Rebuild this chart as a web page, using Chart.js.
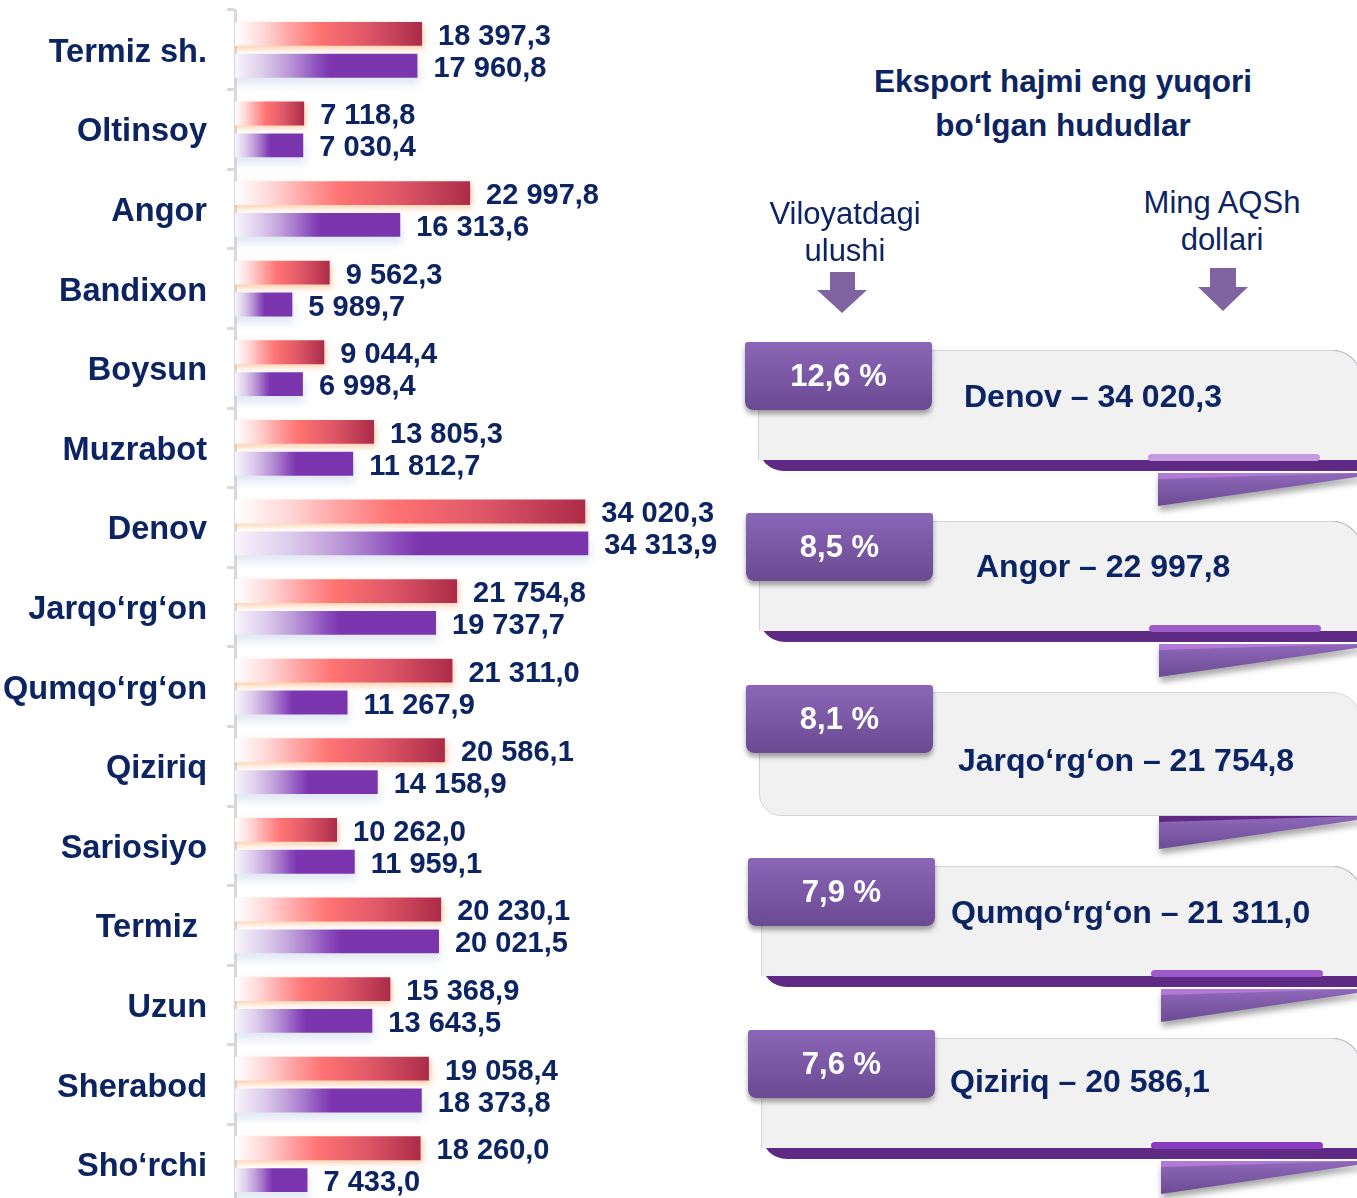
<!DOCTYPE html>
<html>
<head>
<meta charset="utf-8">
<script src="https://cdn.jsdelivr.net/npm/chart.js@4.4.1/dist/chart.umd.min.js"></script>
<style>
html,body{margin:0;padding:0;background:#fff;}
body{width:1357px;height:1198px;overflow:hidden;position:relative;font-family:'Liberation Sans',Arial,sans-serif;color:#0c2461;}
#chartBox{position:absolute;left:0;top:0;width:740px;height:1210px;}
.abs{position:absolute;box-sizing:border-box;}
.title{left:813px;top:59px;width:500px;text-align:center;font-weight:bold;font-size:31.5px;line-height:44px;}
.sub{text-align:center;font-size:31px;line-height:37px;width:300px;}
.tab{width:187px;height:68px;background:linear-gradient(#8b66b8,#6a4a91);border-radius:3px 3px 8px 8px;box-shadow:0 4px 5px rgba(0,0,0,0.35);color:#fff;font-weight:bold;font-size:31px;line-height:68px;text-align:center;z-index:5;}
.card{background:#f1f1f1;border:1px solid #d4d4d4;z-index:2;}
.under{background:#5e2a84;z-index:1;}
.pill{height:7px;border-radius:4px;z-index:3;}
.ribWrap{filter:drop-shadow(1px 5px 3px rgba(0,0,0,0.35));z-index:0;}
.rib{position:absolute;left:0;top:0;width:100%;height:100%;clip-path:polygon(0 0,100% 0,100% 10%,0 100%);background:linear-gradient(#9068bb,#6b4b93);}
.ribTop{position:absolute;left:0;top:0;width:100%;height:100%;clip-path:polygon(0 0,100% 0,0 18%);background:#b07ad6;}
.region{font-weight:bold;font-size:32px;line-height:36px;white-space:nowrap;z-index:4;}
</style>
</head>
<body>
<div id="chartBox"><canvas id="c" width="740" height="1210"></canvas></div>
<div id="right"></div>
<script>
// ---------- data ----------
const categories = ['Termiz sh.', 'Oltinsoy', 'Angor', 'Bandixon', 'Boysun', 'Muzrabot', 'Denov', 'Jarqo‘rg‘on', 'Qumqo‘rg‘on', 'Qiziriq', 'Sariosiyo', 'Termiz ', 'Uzun', 'Sherabod', 'Sho‘rchi'];
const seriesRed = [18397.3, 7118.8, 22997.8, 9562.3, 9044.4, 13805.3, 34020.3, 21754.8, 21311.0, 20586.1, 10262.0, 20230.1, 15368.9, 19058.4, 18260.0];
const seriesPurple = [17960.8, 7030.4, 16313.6, 5989.7, 6998.4, 11812.7, 34313.9, 19737.7, 11267.9, 14158.9, 11959.1, 20021.5, 13643.5, 18373.8, 7433.0];

const titleLines = ['Eksport hajmi eng yuqori', 'bo‘lgan hududlar'];
const shareHeader = ['Viloyatdagi', 'ulushi'];
const valueHeader = ['Ming AQSh', 'dollari'];
const topRegions = ['Denov', 'Angor', 'Jarqo‘rg‘on', 'Qumqo‘rg‘on', 'Qiziriq'];
const topValues = [34020.3, 22997.8, 21754.8, 21311.0, 20586.1];
const topShares = [12.6, 8.5, 8.1, 7.9, 7.6];

// ---------- helpers ----------
function fmt(v) {
  const s = v.toFixed(1).split('.');
  return s[0].replace(/\B(?=(\d{3})+(?!\d))/g, ' ') + ',' + s[1];
}
function fmtShare(v) { return v.toFixed(1).replace('.', ',') + ' %'; }

const FONT = "'Liberation Sans', Arial, sans-serif";
const NAVY = '#0c2461';

const redStops = [[0, '#ffffff'], [0.15, '#ffd8d8'], [0.3, '#ffa2a2'], [0.45, '#ff7373'], [0.7, '#df5868'], [1, '#ab2b48']];
const purpleStops = [[0, '#f8f4fc'], [0.15, '#ddcdec'], [0.27, '#c2a2db'], [0.37, '#a677cb'], [0.46, '#8a4cbc'], [0.52, '#7b35ae'], [1, '#7a34ad']];

function makeGrad(stops) {
  return (ctx) => {
    const chart = ctx.chart;
    const area = chart.chartArea;
    if (!area || ctx.type !== 'data') return stops[stops.length - 1][1];
    const x0 = area.left;
    const x1 = chart.scales.x.getPixelForValue(ctx.raw);
    const g = chart.ctx.createLinearGradient(x0, 0, Math.max(x1, x0 + 1), 0);
    stops.forEach(s => g.addColorStop(s[0], s[1]));
    return g;
  };
}

const shadowPlugin = {
  id: 'barShadow',
  beforeDatasetDraw(chart, args) {
    const c = chart.ctx;
    c.save();
    if (args.index === 0) {
      c.shadowColor = 'rgba(255,165,100,0.55)';
      c.shadowBlur = 6; c.shadowOffsetX = 2; c.shadowOffsetY = 3;
    } else {
      c.shadowColor = 'rgba(170,192,225,0.35)';
      c.shadowBlur = 9; c.shadowOffsetX = 2; c.shadowOffsetY = 7;
    }
  },
  afterDatasetDraw(chart) { chart.ctx.restore(); }
};

const valueLabels = {
  id: 'valueLabels',
  afterDatasetsDraw(chart) {
    const c = chart.ctx;
    c.save();
    c.font = 'bold 29px ' + FONT;
    c.fillStyle = NAVY;
    c.textAlign = 'left';
    c.textBaseline = 'middle';
    chart.data.datasets.forEach((ds, i) => {
      chart.getDatasetMeta(i).data.forEach((el, j) => {
        c.fillText(fmt(ds.data[j]), el.x + 16, el.y + 3);
      });
    });
    c.restore();
  }
};

const clipLeft = {left: 0, top: false, right: false, bottom: false};

new Chart(document.getElementById('c'), {
  type: 'bar',
  data: {
    labels: categories,
    datasets: [
      {label: 'Qator 1', data: seriesRed, backgroundColor: makeGrad(redStops), clip: clipLeft},
      {label: 'Qator 2', data: seriesPurple, backgroundColor: makeGrad(purpleStops), clip: clipLeft}
    ]
  },
  options: {
    indexAxis: 'y',
    responsive: false,
    animation: false,
    devicePixelRatio: 1,
    categoryPercentage: 0.8,
    barPercentage: 0.75,
    layout: {padding: {top: 10, bottom: 6, left: 0, right: 40}},
    plugins: {legend: {display: false}, tooltip: {enabled: false}},
    scales: {
      x: {display: false, min: 500, max: 45000},
      y: {
        z: 1,
        grid: {display: true, drawOnChartArea: false, drawTicks: true, tickLength: 8, color: '#d9d9d9', lineWidth: 3, offset: true},
        border: {display: true, color: '#d9d9d9', width: 3},
        ticks: {color: NAVY, font: {family: FONT, weight: 'bold', size: 32.5}, padding: 20, labelOffset: 3},
        afterFit(s) { s.width = 235; s.paddingTop = 0; s.paddingBottom = 0; }
      }
    }
  },
  plugins: [shadowPlugin, valueLabels]
});

// ---------- right-hand infographic ----------
const right = document.getElementById('right');
function add(cls, style, html) {
  const d = document.createElement('div');
  d.className = 'abs ' + cls;
  Object.assign(d.style, style);
  if (html !== undefined) d.innerHTML = html;
  right.appendChild(d);
  return d;
}
add('title', {}, titleLines.join('<br>'));
add('sub', {left: '695px', top: '195px'}, shareHeader.join('<br>'));
add('sub', {left: '1072px', top: '184px'}, valueHeader.join('<br>'));

const svgNS = 'http://www.w3.org/2000/svg';
const svg = document.createElementNS(svgNS, 'svg');
svg.setAttribute('width', '1357'); svg.setAttribute('height', '1198');
svg.style.position = 'absolute'; svg.style.left = '0'; svg.style.top = '0';
['830,272 855,272 855,290 867,290 842,313 817,290 830,290',
 '1210,268 1236,268 1236,287 1248,287 1223,311 1198,287 1210,287'].forEach(p => {
  const pg = document.createElementNS(svgNS, 'polygon');
  pg.setAttribute('points', p); pg.setAttribute('fill', '#8064a2');
  svg.appendChild(pg);
});
right.appendChild(svg);

const panelTop = [342, 513, 685, 858, 1030];
const panelLeft = [745, 746, 746, 748, 748];
const textLeft = [964, 976, 958, 951, 950];
const textMid = [396, 566, 760, 912, 1081];
const withStrip = [true, true, false, true, true];
const pillColor = ['#c49be0', '#9e5acb', null, '#9e5acb', '#8a3cc0'];

topRegions.forEach((name, i) => {
  const T = panelTop[i], X = panelLeft[i], cl = X + 13;
  const w = 1362 - cl;
  if (withStrip[i]) {
    add('under', {left: cl + 'px', top: (T + 8) + 'px', width: w + 'px', height: '121px', borderRadius: '0 30px 0 26px'});
    add('card', {left: cl + 'px', top: (T + 8) + 'px', width: w + 'px', height: '110px', borderRadius: '0 30px 0 0', borderBottom: 'none'});
  } else {
    add('card', {left: cl + 'px', top: (T + 7) + 'px', width: w + 'px', height: '124px', borderRadius: '0 30px 0 22px'});
  }
  if (pillColor[i]) add('pill', {left: (X + 403) + 'px', top: (T + 112) + 'px', width: '172px', background: pillColor[i]});
  const rw = add('ribWrap', {left: (X + 413) + 'px', top: (T + 131) + 'px', width: (1362 - X - 413) + 'px', height: '33px'});
  const r1 = document.createElement('div'); r1.className = 'rib'; rw.appendChild(r1);
  const r2 = document.createElement('div'); r2.className = 'ribTop';
  if (!withStrip[i]) r2.style.background = '#5e2a84';
  rw.appendChild(r2);
  add('tab', {left: X + 'px', top: T + 'px'}, fmtShare(topShares[i]));
  add('region', {left: textLeft[i] + 'px', top: (textMid[i] - 18) + 'px'}, name + ' – ' + fmt(topValues[i]));
});
</script>
</body>
</html>
